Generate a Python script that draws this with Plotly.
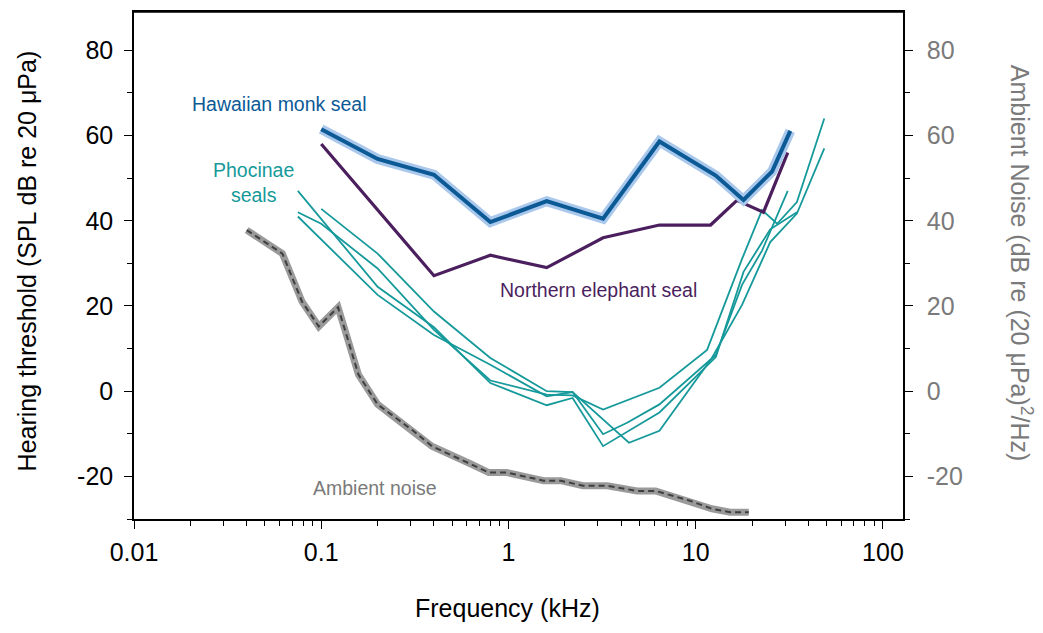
import math
import plotly.graph_objects as go

# Hearing thresholds (dB re 20 uPa) by frequency (kHz)
monk_f = [0.1, 0.2, 0.4, 0.8, 1.6, 3.2, 6.4, 12.8, 18, 25.6, 32]
monk_db = [61.5, 54.5, 50.8, 39.7, 44.6, 40.5, 58.6, 50.6, 44.9, 51.6, 61.1]

eseal_f = [0.1, 0.4, 0.8, 1.6, 3.2, 6.4, 12, 16.6, 23, 31]
eseal_db = [58.0, 27.1, 31.9, 29.0, 36.0, 39.0, 39.0, 44.8, 42.0, 56.0]

# Phocinae seals, four audiograms
phoc1_f = [0.1, 0.2, 0.4, 0.8, 1.6, 2.2, 4.4, 6.4, 12.2, 17.7, 25, 34.7, 48.6]
phoc1_db = [42.8, 32.3, 18.7, 7.8, 0.0, -0.2, -12.1, -9.3, 7.8, 20.3, 35.0, 41.7, 57.0]
phoc2_f = [0.075, 0.1, 0.2, 0.4, 0.8, 1.6, 2.2, 3.2, 6.4, 11.5, 17.7, 22.6, 27.2, 34.7, 48.6]
phoc2_db = [42.0, 39.3, 28.8, 14.4, 2.5, -0.8, -1.0, -4.3, 0.8, 9.7, 31.1, 42.5, 39.3, 44.4, 64.0]
phoc3_f = [0.075, 0.2, 0.4, 0.8, 1.6, 2.2, 3.2, 4.3, 6.4, 12.8, 17.7, 22.6, 31]
phoc3_db = [41.0, 22.6, 13.2, 6.2, -1.2, -0.2, -10.1, -7.4, -3.1, 8.5, 25.0, 33.0, 47.0]
phoc4_f = [0.075, 0.2, 0.4, 0.8, 1.6, 2.2, 3.2, 6.4, 12.8, 18, 25, 34.7]
phoc4_db = [47.0, 24.5, 15.0, 1.9, -3.3, -1.6, -12.9, -5.0, 8.0, 28.0, 38.0, 42.0]

# Ambient noise spectrum level
noise_f = [0.04, 0.062, 0.079, 0.097, 0.123, 0.158, 0.2, 0.31, 0.39, 0.63, 0.785,
           0.98, 1.54, 1.9, 2.5, 3.37, 4.86, 6.1, 9.3, 12.2, 15.3, 19.2]
noise_db = [37.8, 32.3, 21.0, 15.2, 19.7, 3.9, -3.1, -9.3, -12.9, -17.1, -19.1,
            -19.1, -21.0, -21.0, -22.2, -22.2, -23.4, -23.4, -25.7, -27.6, -28.4, -28.4]

y_ticks = [-20, 0, 20, 40, 60, 80]
y_minor = [-30, -10, 10, 30, 50, 70]
x_ticks = [0.01, 0.1, 1, 10, 100]
x_tick_text = ["0.01", "0.1", "1", "10", "100"]

MONK = "#0b5a96"
MONK_BAND = "#a9c8ec"
ESEAL = "#4b1f5e"
TEAL = "#16999a"
NOISE_LINE = "#3f3f3f"
NOISE_BAND = "#9a9a9a"
GREY_TXT = "#7a7a7a"
FONT = "Liberation Sans, Arial, sans-serif"
TICK_SIZE = 25
TITLE_SIZE = 25
LABEL_SIZE = 19.5

fig = go.Figure()

# ambient noise: grey band with dashed centre line (right axis)
fig.add_trace(go.Scatter(x=noise_f, y=noise_db, mode="lines", yaxis="y2",
                         line=dict(color=NOISE_BAND, width=7), hoverinfo="skip"))
fig.add_trace(go.Scatter(x=noise_f, y=noise_db, mode="lines", yaxis="y2",
                         line=dict(color=NOISE_LINE, width=2, dash="6px,4px")))

for f, db in [(phoc1_f, phoc1_db), (phoc2_f, phoc2_db), (phoc3_f, phoc3_db), (phoc4_f, phoc4_db)]:
    fig.add_trace(go.Scatter(x=f, y=db, mode="lines", line=dict(color=TEAL, width=1.8)))

fig.add_trace(go.Scatter(x=eseal_f, y=eseal_db, mode="lines", line=dict(color=ESEAL, width=3.2)))

fig.add_trace(go.Scatter(x=monk_f, y=monk_db, mode="lines",
                         line=dict(color=MONK_BAND, width=10), hoverinfo="skip"))
fig.add_trace(go.Scatter(x=monk_f, y=monk_db, mode="lines", line=dict(color=MONK, width=4)))

yr = [-30, 89]
axis_common = dict(showgrid=False, zeroline=False, ticks="outside", ticklen=8,
                   tickwidth=1.3, tickcolor="black", linecolor="black", linewidth=1.5)

fig.update_layout(
    width=1043, height=633,
    margin=dict(l=134, r=140, t=10, b=114),
    plot_bgcolor="white", paper_bgcolor="white",
    showlegend=False,
    font=dict(family=FONT, size=TICK_SIZE, color="black"),
    xaxis=dict(type="log", range=[-2, 2.107], tickvals=x_ticks, ticktext=x_tick_text,
               mirror=True, minor=dict(ticks="outside", ticklen=5, tickcolor="black",
                                       tickvals=[m * d for d in [0.01, 0.1, 1, 10] for m in range(2, 10)]),
               tickfont=dict(size=TICK_SIZE), ticklabelstandoff=2, **axis_common),
    yaxis=dict(range=yr, tickvals=y_ticks, ticktext=[str(v) for v in y_ticks],
               mirror=False, minor=dict(ticks="outside", ticklen=5, tickcolor="black", tickvals=y_minor),
               tickfont=dict(size=TICK_SIZE), ticklabelstandoff=6, **axis_common),
    yaxis2=dict(range=yr, overlaying="y", side="right", tickvals=y_ticks,
                ticktext=[str(v) for v in y_ticks],
                minor=dict(ticks="outside", ticklen=5, tickcolor="black", tickvals=y_minor),
                tickfont=dict(size=TICK_SIZE, color=GREY_TXT), ticklabelstandoff=9, **axis_common),
)

# top frame line
fig.add_shape(type="line", xref="paper", yref="paper", x0=0, x1=1, y0=1, y1=1,
              line=dict(color="black", width=1.5))

def lx(f):
    return math.log10(f)

annotations = [
    dict(text="Hawaiian monk seal", x=lx(0.06), y=67.5, font=dict(color=MONK, size=LABEL_SIZE)),
    dict(text="Phocinae<br>seals", x=lx(0.0435), y=49, font=dict(color=TEAL, size=LABEL_SIZE)),
    dict(text="Northern elephant seal", x=lx(3.02), y=23.8, font=dict(color=ESEAL, size=LABEL_SIZE)),
    dict(text="Ambient noise", x=lx(0.193), y=-22.7, font=dict(color=GREY_TXT, size=LABEL_SIZE)),
]
for a in annotations:
    fig.add_annotation(xref="x", yref="y", showarrow=False, xanchor="center", yanchor="middle",
                       font_family=FONT, **a)

fig.add_annotation(text="Hearing threshold (SPL dB re 20 μPa)", xref="paper", yref="paper",
                   x=-0.16, y=0.51, textangle=-90, showarrow=False,
                   font=dict(size=TITLE_SIZE, color="black", family=FONT))
fig.add_annotation(text="Ambient Noise (dB re (20 μPa)<sup>2</sup>/Hz)", xref="paper", yref="paper",
                   x=1.177, y=0.505, textangle=90, showarrow=False,
                   font=dict(size=TITLE_SIZE, color=GREY_TXT, family=FONT))
fig.add_annotation(text="Frequency (kHz)", xref="paper", yref="paper",
                   x=0.486, y=-0.208, showarrow=False,
                   font=dict(size=TITLE_SIZE, color="black", family=FONT))

fig.write_html("out.html")
